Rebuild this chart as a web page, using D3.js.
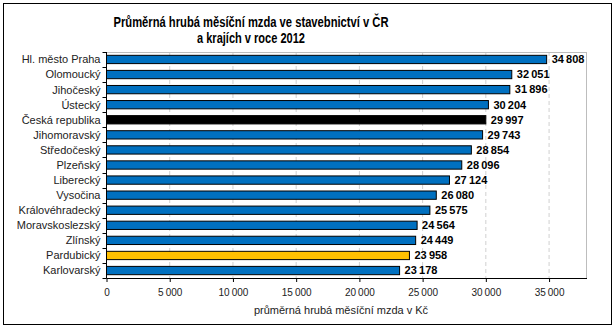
<!DOCTYPE html>
<html><head><meta charset="utf-8">
<script src="https://cdn.jsdelivr.net/npm/d3@7/dist/d3.min.js"></script>
<style>body{margin:0;background:#fff}svg{display:block;font-family:"Liberation Sans",Arial,sans-serif}</style>
</head><body><svg id="c" width="616" height="329"></svg>
<script>
const categories = ["Hl. město Praha","Olomoucký","Jihočeský","Ústecký","Česká republika","Jihomoravský","Středočeský","Plzeňský","Liberecký","Vysočina","Královéhradecký","Moravskoslezský","Zlínský","Pardubický","Karlovarský"];
const values = [34808,32051,31896,30204,29997,29743,28854,28096,27124,26080,25575,24564,24449,23958,23178];
const highlight = {"Česká republika":"#000000","Pardubický":"#FFC000"};
const xTicks = [0,5000,10000,15000,20000,25000,30000,35000];
const titleLines = ["Průměrná hrubá měsíční mzda ve stavebnictví  v ČR","a krajích v roce 2012"];
const xLabel = "průměrná hrubá měsíční mzda v  Kč";

const svg = d3.select("#c");
svg.append("rect").attr("x",3.5).attr("y",3.5).attr("width",608).attr("height",321).attr("fill","#fff").attr("stroke","#000").attr("stroke-width",1);
const m = {l:106.5, r:587, t:52, b:278};
const x = d3.scaleLinear().domain([0,38000]).range([m.l,m.r]);
const y = d3.scaleBand().domain(categories).range([m.t,m.b]).paddingInner(0.45).paddingOuter(0.22);
const yb = d3.scaleBand().domain(categories).range([m.t,m.b]);
const fmt = v => d3.format(",")(v).replace(/,/g,"\u2009");

// grid
svg.append("g").selectAll("line").data(xTicks.slice(1)).join("line")
 .attr("x1",d=>x(d)).attr("x2",d=>x(d)).attr("y1",m.t).attr("y2",m.b)
 .attr("stroke","#d0d0d0").attr("stroke-dasharray","4,3");
svg.append("line").attr("x1",m.l).attr("x2",m.r).attr("y1",m.t+0.5).attr("y2",m.t+0.5).attr("stroke","#bdbdbd");
svg.append("line").attr("x1",m.r-0.5).attr("x2",m.r-0.5).attr("y1",m.t).attr("y2",m.b).attr("stroke","#bdbdbd");

// bars
svg.append("g").selectAll("rect").data(categories).join("rect")
 .attr("x",x(0)).attr("y",d=>y(d)).attr("width",(d,i)=>x(values[i])-x(0)).attr("height",y.bandwidth())
 .attr("fill",d=>highlight[d]||"#0070C0").attr("stroke","#000").attr("stroke-width",1);
// labels
svg.append("g").selectAll("text").data(categories).join("text")
 .attr("x",(d,i)=>x(values[i])+5).attr("y",d=>y(d)+y.bandwidth()/2).attr("dy","0.35em")
 .attr("font-size",11).attr("font-weight","bold").attr("fill","#000").text((d,i)=>fmt(values[i]));

// y axis
const ya = svg.append("g").attr("transform",`translate(${m.l},0)`);
ya.append("line").attr("x1",0).attr("x2",0).attr("y1",m.t).attr("y2",m.b).attr("stroke","#000");
ya.selectAll("line.t").data(categories.concat(["_end"])).join("line").attr("class","t")
 .attr("x1",-4).attr("x2",0).attr("y1",(d,i)=>Math.round(m.t+i*yb.step())+0.5).attr("y2",(d,i)=>Math.round(m.t+i*yb.step())+0.5).attr("stroke","#000");
ya.selectAll("text").data(categories).join("text")
 .attr("x",-6).attr("y",d=>yb(d)+yb.bandwidth()/2).attr("dy","0.35em").attr("text-anchor","end")
 .attr("font-size",11).attr("fill","#222").text(d=>d);

// x axis
const xa = svg.append("g").attr("transform",`translate(0,${m.b})`)
 .call(d3.axisBottom(x).tickValues(xTicks).tickSize(4).tickFormat(fmt));
xa.select(".domain").attr("stroke","#000").attr("d",`M${m.l},0.5H${m.r}`);
xa.selectAll("text").attr("font-size",10).attr("fill","#222").attr("font-family","'Liberation Sans',Arial,sans-serif").attr("dy","1.1em");

svg.append("text").attr("x",341).attr("y",314).attr("text-anchor","middle").attr("font-size",11).attr("fill","#222").text(xLabel);

const titleW = [275,108];
svg.append("g").selectAll("text").data(titleLines).join("text")
 .attr("x",251).attr("y",(d,i)=>27+i*15.5).attr("text-anchor","middle").attr("font-size",14).attr("font-weight","bold").attr("fill","#000")
 .attr("textLength",(d,i)=>titleW[i]).attr("lengthAdjust","spacingAndGlyphs").text(d=>d);
</script></body></html>
